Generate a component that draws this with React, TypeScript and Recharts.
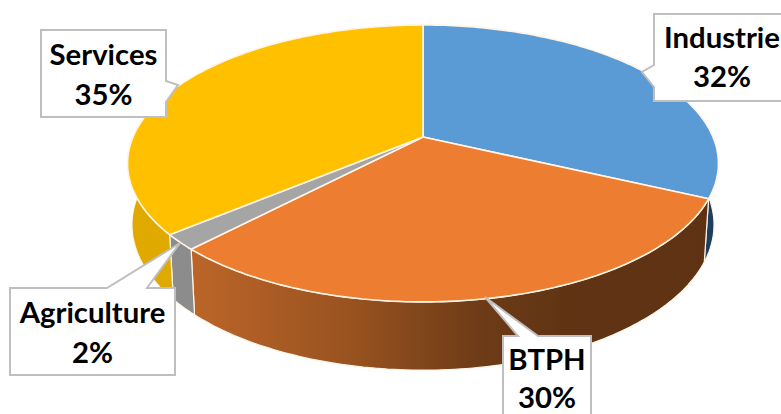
import React from "react";
import { PieChart, Pie } from "recharts";

const sectors = ["Industrie", "BTPH", "Agriculture", "Services"];
const shares = [32.0, 30.1, 1.8, 36.1];
const percentLabels = ["32%", "30%", "2%", "35%"];
const topColors = ["#5B9BD5", "#ED7D31", "#A5A5A5", "#FFC000"];
const wallColors = ["#1F3F60", "url(#orangeWall)", "#8C8C8C", "#E0A900"];

const rows = sectors.map((name, i) => ({
  name,
  value: shares[i],
  percent: percentLabels[i],
  top: topColors[i],
  wall: wallColors[i],
}));

const WIDTH = 781;
const HEIGHT = 414;
const CX = 423;
const CY = 137;
const RADIUS = 290;
const Y_RATIO = 0.46;
const TILT = 0.191;
const FONT = "Lato, Carlito, 'Open Sans', sans-serif";

// Perspective projection of the pie's flat circle. `deg` is Recharts' angle.
function project(cx: number, cy: number, r: number, deg: number, sx = 1, sy = 1, dy = 0) {
  const rad = (deg * Math.PI) / 180;
  const x = Math.cos(rad);
  const y = -Math.sin(rad);
  const w = 1 - TILT * y;
  return [cx + (sx * r * x) / w, cy + (sy * r * Y_RATIO * y) / w + dy];
}

function arcPoints(a: number, b: number, fn: (d: number) => number[]) {
  const n = Math.max(2, Math.ceil(Math.abs(b - a)));
  const pts: number[][] = [];
  for (let i = 0; i <= n; i++) pts.push(fn(a + ((b - a) * i) / n));
  return pts;
}

const toPath = (pts: number[][]) =>
  "M" + pts.map((p) => `${p[0].toFixed(1)},${p[1].toFixed(1)}`).join("L") + "Z";

function TopSlice(props: any) {
  const { cx, cy, outerRadius, startAngle, endAngle, payload } = props;
  const pts = [[cx, cy], ...arcPoints(startAngle, endAngle, (d) => project(cx, cy, outerRadius, d))];
  return <path d={toPath(pts)} fill={payload.top} stroke="#FFF4E6" strokeWidth={1.6} strokeLinejoin="round" />;
}

function WallSlice(props: any) {
  const { cx, cy, outerRadius, startAngle, endAngle, payload } = props;
  const upper = arcPoints(startAngle, endAngle, (d) => project(cx, cy, outerRadius, d));
  const lower = arcPoints(endAngle, startAngle, (d) => project(cx, cy, outerRadius, d, 0.985, 1.05, 60));
  return (
    <g>
      <defs>
        <linearGradient id="orangeWall" gradientUnits="userSpaceOnUse" x1="190" y1="0" x2="710" y2="0">
          <stop offset="0" stopColor="#BC6529" />
          <stop offset="0.3" stopColor="#9A5320" />
          <stop offset="0.55" stopColor="#6E3C17" />
          <stop offset="0.72" stopColor="#603413" />
          <stop offset="1" stopColor="#5E3213" />
        </linearGradient>
      </defs>
      <path d={toPath([...upper, ...lower])} fill={payload.wall} stroke="#FFF4E6" strokeWidth={1.2} strokeLinejoin="round" />
    </g>
  );
}

const callouts: Record<string, { textX: number; outline: number[][]; lines: number[] }> = {
  Industrie: {
    textX: 722,
    outline: [[654, 14], [820, 14], [820, 101], [654, 101], [654, 87], [642, 72], [654, 65]],
    lines: [48, 87],
  },
  BTPH: {
    textX: 547,
    outline: [[503, 336], [518, 336], [485, 297], [538, 336], [591, 336], [591, 424], [503, 424]],
    lines: [370, 408],
  },
  Agriculture: {
    textX: 92.5,
    outline: [[10, 288], [107, 288], [180, 243], [147, 288], [175, 288], [175, 375], [10, 375]],
    lines: [323, 363],
  },
  Services: {
    textX: 103.5,
    outline: [[41, 30], [166, 30], [166, 81], [178, 85], [166, 102], [166, 117], [41, 117]],
    lines: [65, 105],
  },
};

function Callout(props: any) {
  const { payload } = props;
  const c = callouts[payload.name];
  return (
    <g>
      <path d={toPath(c.outline)} fill="#FFFFFF" stroke="#BFBFBF" strokeWidth={2} />
      <text x={c.textX} y={c.lines[0]} textAnchor="middle" fontFamily={FONT} fontWeight={700} fontSize={29.3} fill="#000">
        {payload.name}
      </text>
      <text x={c.textX} y={c.lines[1]} textAnchor="middle" fontFamily={FONT} fontWeight={700} fontSize={29.3} fill="#000">
        {payload.percent}
      </text>
    </g>
  );
}

export default function App() {
  return (
    <div style={{ position: "absolute", left: 0, top: 0, width: WIDTH, height: HEIGHT, background: "#fff" }}>
      <PieChart width={WIDTH} height={HEIGHT} margin={{ top: 0, right: 0, bottom: 0, left: 0 }}>
        <Pie
          data={rows}
          dataKey="value"
          cx={CX}
          cy={CY}
          outerRadius={RADIUS}
          startAngle={90}
          endAngle={-270}
          isAnimationActive={false}
          shape={WallSlice}
        />
        <Pie
          data={rows}
          dataKey="value"
          cx={CX}
          cy={CY}
          outerRadius={RADIUS}
          startAngle={90}
          endAngle={-270}
          isAnimationActive={false}
          shape={TopSlice}
          label={Callout}
          labelLine={false}
        />
      </PieChart>
    </div>
  );
}
